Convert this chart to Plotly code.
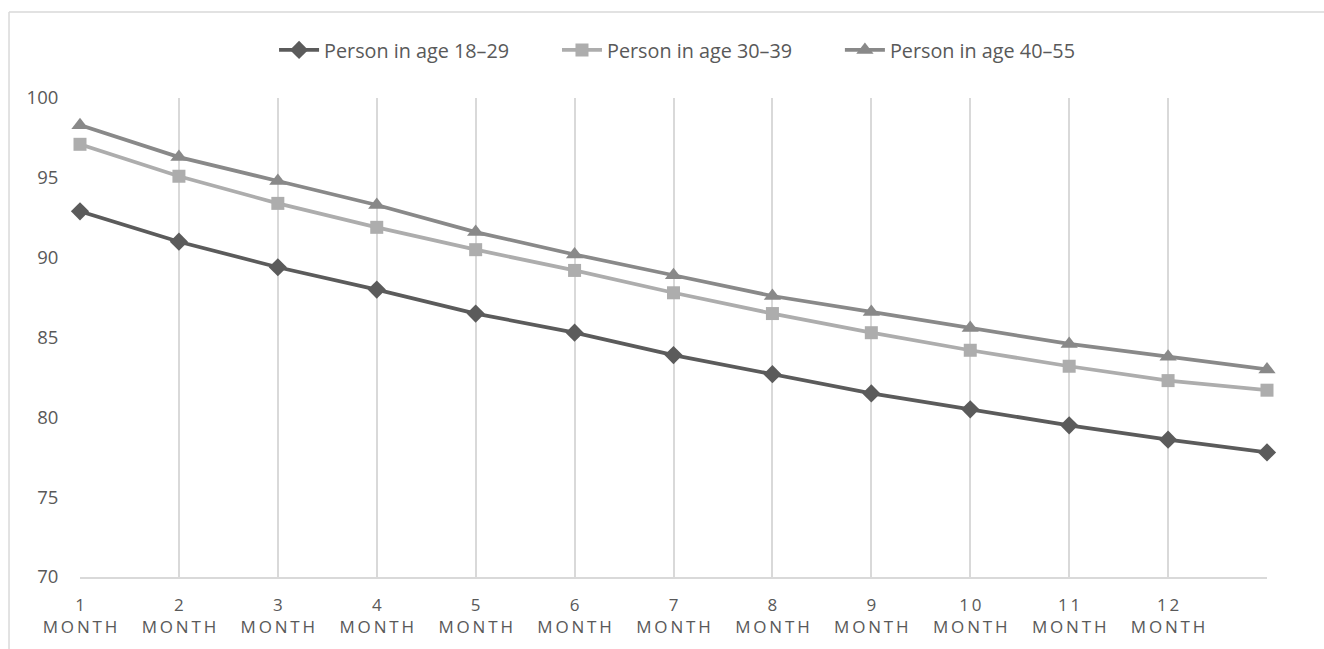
import plotly.graph_objects as go

months = list(range(1, 14))
tick_labels = ["1", "2", "3", "4", "5", "6", "7", "8", "9", "1\u20090", "1\u20091", "1\u20092", ""]
series_names = ["Person in age 18–29", "Person in age 30–39", "Person in age 40–55"]
age_18_29 = [92.9, 91.0, 89.4, 88.0, 86.5, 85.3, 83.9, 82.7, 81.5, 80.5, 79.5, 78.6, 77.8]
age_30_39 = [97.1, 95.1, 93.4, 91.9, 90.5, 89.2, 87.8, 86.5, 85.3, 84.2, 83.2, 82.3, 81.7]
age_40_55 = [98.3, 96.3, 94.8, 93.3, 91.6, 90.2, 88.9, 87.6, 86.6, 85.6, 84.6, 83.8, 83.0]

colors = ["#5B5B5B", "#ADADAD", "#898989"]
symbols = ["diamond", "square", "triangle-up"]
msizes = [14, 13, 15]

pad = "\u2002" * 4 + "\u2009"
fig = go.Figure()
for i, (name, vals, c, s, ms) in enumerate(zip(series_names, [age_18_29, age_30_39, age_40_55], colors, symbols, msizes)):
    fig.add_trace(go.Scatter(
        x=months, y=vals, name=name + (pad if i < 2 else ""), mode="lines+markers",
        line=dict(color=c, width=3.75),
        marker=dict(symbol=s, size=ms, color=c),
        cliponaxis=False,
    ))

M = "M\u2009O\u2009N\u2009T\u2009H"
ticktext = [(t + "<br>" + M) if t else "" for t in tick_labels]

font = "Open Sans"
fig.update_layout(
    width=1324, height=649,
    margin=dict(l=80, r=57, t=98, b=72),
    paper_bgcolor="white", plot_bgcolor="white",
    font=dict(family=font, color="#595959", size=17),
    showlegend=True,
    legend=dict(orientation="h", x=0.503, xanchor="center", y=1.10, yanchor="middle",
                font=dict(size=19.8, color="#595959"), itemwidth=40, traceorder="normal"),
    xaxis=dict(range=[1, 13], tickvals=months, ticktext=ticktext,
               showgrid=True, gridcolor="#D9D9D9", gridwidth=1.5,
               showline=True, linecolor="#D9D9D9", linewidth=1.5,
               ticks="outside", ticklen=12, tickcolor="rgba(0,0,0,0)",
               zeroline=False, tickfont=dict(size=17, color="#595959")),
    yaxis=dict(range=[70, 100], dtick=5, showgrid=False, zeroline=False,
               showline=False, ticks="outside", ticklen=17, tickcolor="rgba(0,0,0,0)",
               tickfont=dict(size=18.5, color="#595959")),
    shapes=[
        dict(type="line", xref="paper", yref="paper", x0=-0.0598, x1=1.2, y0=1.1795, y1=1.1795,
             line=dict(color="#D9D9D9", width=1.5)),
        dict(type="line", xref="paper", yref="paper", x0=-0.0598, x1=-0.0598, y0=1.1795, y1=-0.3,
             line=dict(color="#D9D9D9", width=1.5)),
    ],
)

fig.write_html("out.html", config={"displayModeBar": False},
               post_script="document.body.style.margin='0';document.body.style.overflow='hidden';")
